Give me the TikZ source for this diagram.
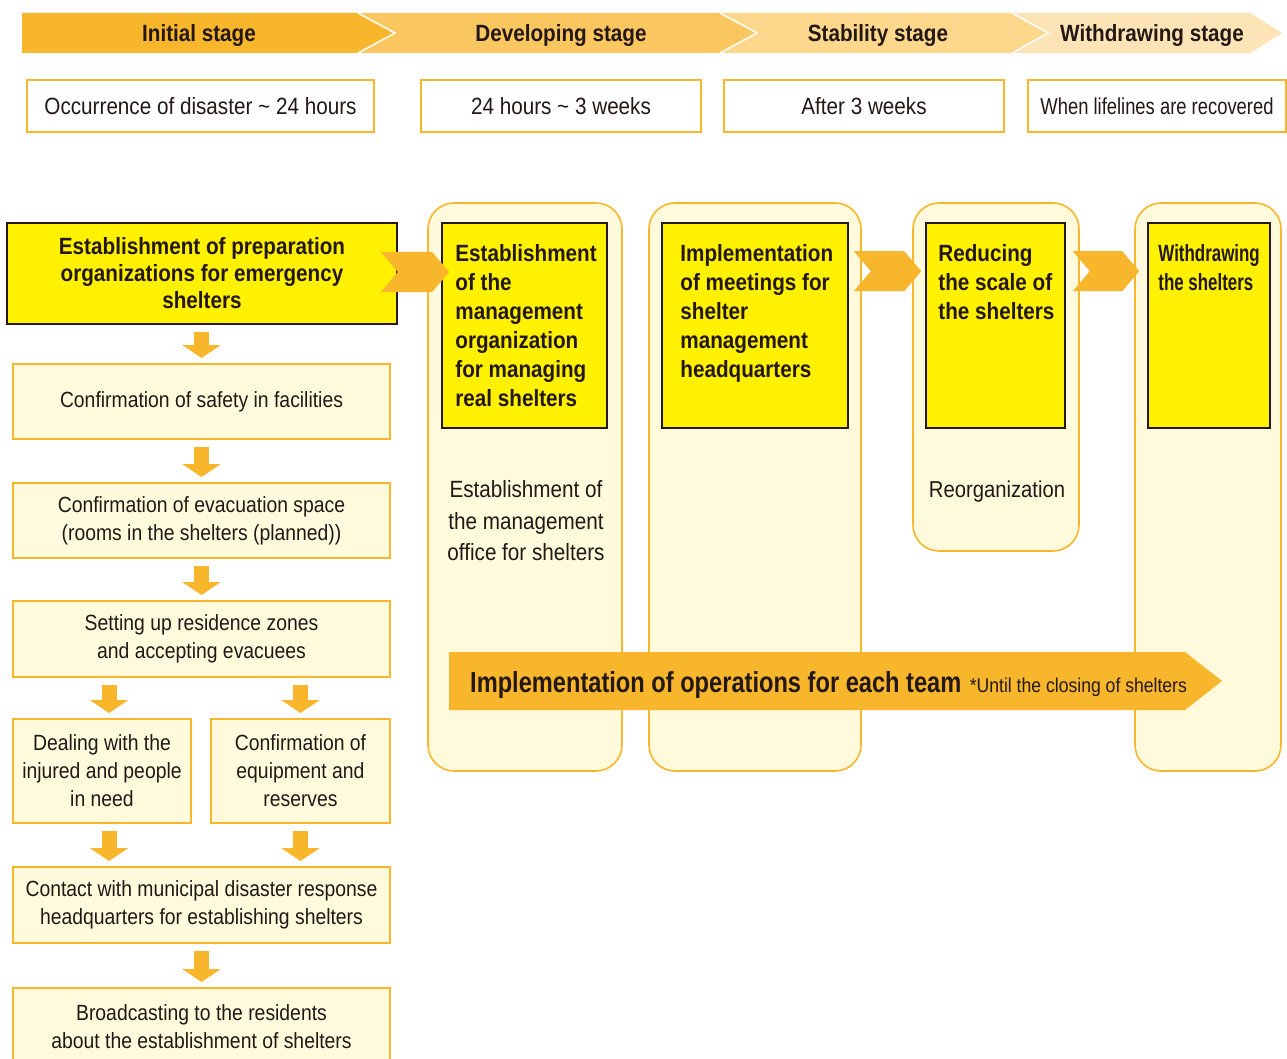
\documentclass[tikz,border=0pt]{standalone}
\usepackage{fontspec}
\setmainfont{Liberation Sans}[FakeStretch=0.88]
\newfontfamily\narrowA{Liberation Sans}[FakeStretch=0.80]
\newfontfamily\narrowC{Liberation Sans}[FakeStretch=0.815]
\newfontfamily\narrowB{Liberation Sans}[FakeStretch=0.72]
\usetikzlibrary{arrows.meta,calc}
\definecolor{orD}{HTML}{F8B62D}
\definecolor{or2}{HTML}{FAC660}
\definecolor{or3}{HTML}{FCD78C}
\definecolor{or4}{HTML}{FDE4B6}
\definecolor{cream}{HTML}{FFFADC}
\definecolor{yel}{HTML}{FFF100}
\definecolor{ink}{HTML}{231815}
\tikzset{
 every node/.style={text=ink, inner sep=0pt},
 timebox/.style={draw=orD, line width=2pt, fill=white, minimum height=52pt, text height=17pt, text depth=0pt, font=\fontsize{23.5}{28}\selectfont},
 stepbox/.style={draw=orD, line width=2pt, fill=cream, align=center, font=\fontsize{22}{28}\selectfont},
 yelbox/.style={draw=ink, line width=1.6pt, fill=yel},
 boldtxt/.style={align=left, anchor=north west, font=\bfseries\fontsize{23.5}{29}\selectfont},
 colbox/.style={draw=orD, line width=1.6pt, fill=cream, rounded corners=26pt},
 downarr/.style={draw=orD, line width=15pt, -{Triangle[width=38pt,length=13pt]}, shorten <=7pt, shorten >=5pt},
 hdr/.style={anchor=base, font=\bfseries\fontsize{23.5}{28}\selectfont},
}
\newcommand{\chevarrow}[2]{\fill[orD] let \p1=#1, \p2=#2 in (\x1,\y1+20pt) -- (\x2-17pt,\y1+20pt) -- (\x2,\y1) -- (\x2-17pt,\y1-20pt) -- (\x1,\y1-20pt) -- (\x1+17pt,\y1) -- cycle;}
\begin{document}
\begin{tikzpicture}[x=1pt,y=-1pt]
\useasboundingbox (0,0) rectangle (1287,1059);
\fill[white] (0,0) rectangle (1287,1059);
% header band
\fill[or4] (1012,13) -- (1250,13) -- (1282,33) -- (1250,53) -- (1012,53) -- (1048,33) -- cycle;
\fill[or3] (720,13) -- (1012,13) -- (1048,33) -- (1012,53) -- (720,53) -- (757,33) -- cycle;
\fill[or2] (358,13) -- (720,13) -- (757,33) -- (720,53) -- (358,53) -- (395,33) -- cycle;
\fill[orD] (22,13) -- (358,13) -- (395,33) -- (358,53) -- (22,53) -- cycle;
\draw[white, line width=1.5pt] (358,13) -- (395,33) -- (358,53);
\draw[white, line width=1.5pt] (720,13) -- (757,33) -- (720,53);
\draw[white, line width=1.5pt] (1012,13) -- (1048,33) -- (1012,53);
\node[hdr] (h1) at (199,41.5) {Initial stage};
\node[hdr] (h2) at (561,41.5) {Developing stage};
\node[hdr] (h3) at (878,41.5) {Stability stage};
\node[hdr] (h4) at (1152,41.5) {Withdrawing stage};
% time boxes
\node[timebox, minimum width=347pt] (t1) at (200.5,106) {Occurrence of disaster \textasciitilde{} 24 hours};
\node[timebox, minimum width=280pt] (t2) at (561,106) {24 hours \textasciitilde{} 3 weeks};
\node[timebox, minimum width=280pt] (t3) at (864,106) {After 3 weeks};
\node[timebox, minimum width=258pt, font=\narrowA\fontsize{23}{28}\selectfont] (t4) at (1157,106) {When lifelines are recovered};
% left column
\node[yelbox, minimum width=390pt, minimum height=101pt, align=center, font=\bfseries\fontsize{23.5}{27}\selectfont] (prep) at (202,273.5) {Establishment of preparation\\organizations for emergency\\shelters};
\node[stepbox, minimum width=377pt, minimum height=75pt] (safety) at (201.5,401.5) {Confirmation of safety in facilities};
\node[stepbox, minimum width=377pt, minimum height=75pt] (evac) at (201.5,520.5) {Confirmation of evacuation space\\(rooms in the shelters (planned))};
\node[stepbox, minimum width=377pt, minimum height=76pt] (setup) at (201.5,639) {Setting up residence zones\\and accepting evacuees};
\node[stepbox, minimum width=178pt, minimum height=104pt] (deal) at (102,771) {Dealing with the\\injured and people\\in need};
\node[stepbox, minimum width=179pt, minimum height=104pt] (equip) at (300.5,771) {Confirmation of\\equipment and\\reserves};
\node[stepbox, minimum width=377pt, minimum height=76pt] (contact) at (201.5,905) {Contact with municipal disaster response\\headquarters for establishing shelters};
\node[stepbox, minimum width=377pt, minimum height=78pt] (broad) at (201.5,1027) {Broadcasting to the residents\\about the establishment of shelters};
\draw[downarr] (prep.south -| safety.north) -- (safety.north);
\draw[downarr] (safety.south) -- (evac.north);
\draw[downarr] (evac.south) -- (setup.north);
\draw[downarr] ([xshift=7pt]deal.north |- setup.south) -- ([xshift=7pt]deal.north);
\draw[downarr] (equip.north |- setup.south) -- (equip.north);
\draw[downarr] ([xshift=7pt]deal.south) -- ([xshift=7pt]deal.south |- contact.north);
\draw[downarr] (equip.south) -- (equip.south |- contact.north);
\draw[downarr] (contact.south) -- (broad.north);
% stage columns
\node[colbox, minimum width=194pt, minimum height=568pt] (col1) at (525,487) {};
\node[colbox, minimum width=212pt, minimum height=568pt] (col2) at (755,487) {};
\node[colbox, minimum width=166pt, minimum height=348pt] (col3) at (996,377) {};
\node[colbox, minimum width=146pt, minimum height=568pt] (col4) at (1208,487) {};
\node[yelbox, minimum width=165pt, minimum height=205pt] (m1) at (524.5,325.5) {};
\node[yelbox, minimum width=186pt, minimum height=205pt] (m2) at (755,325.5) {};
\node[yelbox, minimum width=139pt, minimum height=205pt] (m3) at (995.5,325.5) {};
\node[yelbox, minimum width=122pt, minimum height=205pt] (m4) at (1209,325.5) {};
\node[boldtxt] (m1t) at ([xshift=14pt,yshift=-22pt]m1.north west) {Establishment\\of the\\management\\organization\\for managing\\real shelters};
\node[boldtxt] (m2t) at ([xshift=19pt,yshift=-22pt]m2.north west) {Implementation\\of meetings for\\shelter\\management\\headquarters};
\node[boldtxt] (m3t) at ([xshift=13pt,yshift=-22pt]m3.north west) {Reducing\\the scale of\\the shelters};
\node[boldtxt, font=\narrowB\bfseries\fontsize{23.5}{29}\selectfont] (m4t) at ([xshift=11pt,yshift=-22pt]m4.north west) {Withdrawing\\the shelters};
\node[align=center, font=\fontsize{23.5}{31.5}\selectfont] (c1t) at (526,521) {Establishment of\\the management\\office for shelters};
\node[font=\fontsize{23}{28}\selectfont] (c3t) at (997,492) {Reorganization};
% chevron arrows
\chevarrow{([xshift=-17pt,yshift=1.5pt]prep.east)}{([xshift=8pt]m1.west)}
\chevarrow{([xshift=5pt,yshift=-49pt]m2.north east)}{([xshift=-4pt]m3.west)}
\chevarrow{([xshift=7pt,yshift=-49pt]m3.north east)}{([xshift=-8pt]m4.west)}
% operations arrow
\fill[orD] (449,652) -- (1185,652) -- (1222,681) -- (1185,710) -- (449,710) -- cycle;
\node[anchor=base west, font=\narrowC\bfseries\fontsize{29}{30}\selectfont] (ops) at (470,692) {Implementation of operations for each team};
\node[anchor=base west, font=\fontsize{20}{22}\selectfont] (until) at ([xshift=8pt]ops.base east) {*Until the closing of shelters};
\end{tikzpicture}
\end{document}
